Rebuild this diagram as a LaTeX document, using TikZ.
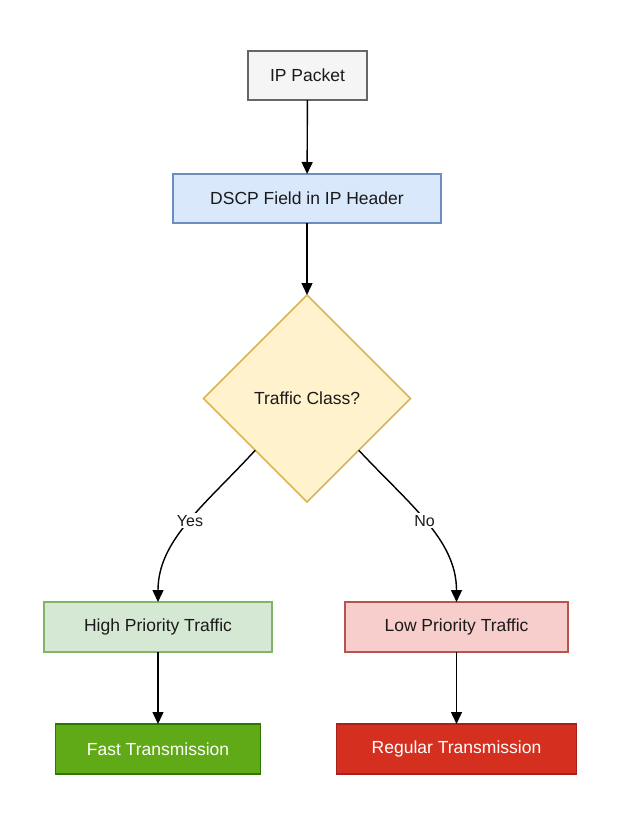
\documentclass[tikz,border=0pt]{standalone}
\usepackage{fontspec}
\setmainfont{Liberation Sans}
\usetikzlibrary{shapes.geometric,arrows.meta}
\definecolor{grayfill}{HTML}{F5F5F5}
\definecolor{grayline}{HTML}{666666}
\definecolor{bluefill}{HTML}{DAE8FC}
\definecolor{blueline}{HTML}{6C8EBF}
\definecolor{yelfill}{HTML}{FFF2CC}
\definecolor{yelline}{HTML}{D6B656}
\definecolor{grnfill}{HTML}{D5E8D4}
\definecolor{grnline}{HTML}{82B366}
\definecolor{redfill}{HTML}{F8CECC}
\definecolor{redline}{HTML}{B85450}
\definecolor{dkgrnfill}{HTML}{60A917}
\definecolor{dkgrnline}{HTML}{2D7600}
\definecolor{dkredfill}{HTML}{D5301F}
\definecolor{dkredline}{HTML}{A8201A}
\definecolor{txt}{HTML}{1A1A1A}
\tikzset{
  box/.style={rectangle, draw, line width=1.5pt, inner sep=0pt, outer sep=0pt, text=txt, font=\fontsize{17.5}{20}\selectfont},
  dia/.style={diamond, draw, line width=1.5pt, inner sep=0pt, outer sep=0pt, text=txt, font=\fontsize{17.5}{20}\selectfont},
  conn/.style={line width=1.4pt, -{Triangle[length=12pt,width=11pt]}},
  lbl/.style={fill=white, inner sep=2pt, text=txt, font=\fontsize{16}{18}\selectfont}
}
\begin{document}
\begin{tikzpicture}[x=1pt,y=-1pt]
\useasboundingbox (0,0) rectangle (621,822);
\node[box, fill=grayfill, draw=grayline, minimum width=119pt, minimum height=49pt] (ip) at (307.5,75.5) {IP Packet};
\node[box, fill=bluefill, draw=blueline, minimum width=268pt, minimum height=49pt] (dscp) at (307,198.5) {DSCP Field in IP Header};
\node[dia, fill=yelfill, draw=yelline, minimum width=207pt, minimum height=207pt] (tc) at (307,398.5) {Traffic Class?};
\node[box, fill=grnfill, draw=grnline, minimum width=228pt, minimum height=50pt] (hp) at (158,627) {High Priority Traffic};
\node[box, fill=redfill, draw=redline, minimum width=223pt, minimum height=50pt] (lp) at (456.5,627) {Low Priority Traffic};
\node[box, fill=dkgrnfill, draw=dkgrnline, text=white, minimum width=205pt, minimum height=50pt] (ft) at (158,749) {Fast Transmission};
\node[box, fill=dkredfill, draw=dkredline, text=white, minimum width=240pt, minimum height=50pt] (rt) at (456.5,749) {Regular Transmission};
\draw[conn] (ip) -- (dscp);
\draw[conn] (dscp) -- (tc);
\draw[conn] (tc.south west) .. controls (205,505) and (158,540) .. node[lbl, pos=0.48] {Yes} (hp.north);
\draw[conn] (tc.south east) .. controls (410,505) and (456.5,540) .. node[lbl, pos=0.48] {No} (lp.north);
\draw[conn] (hp) -- (ft);
\draw[conn] (lp) -- (rt);
\end{tikzpicture}
\end{document}
